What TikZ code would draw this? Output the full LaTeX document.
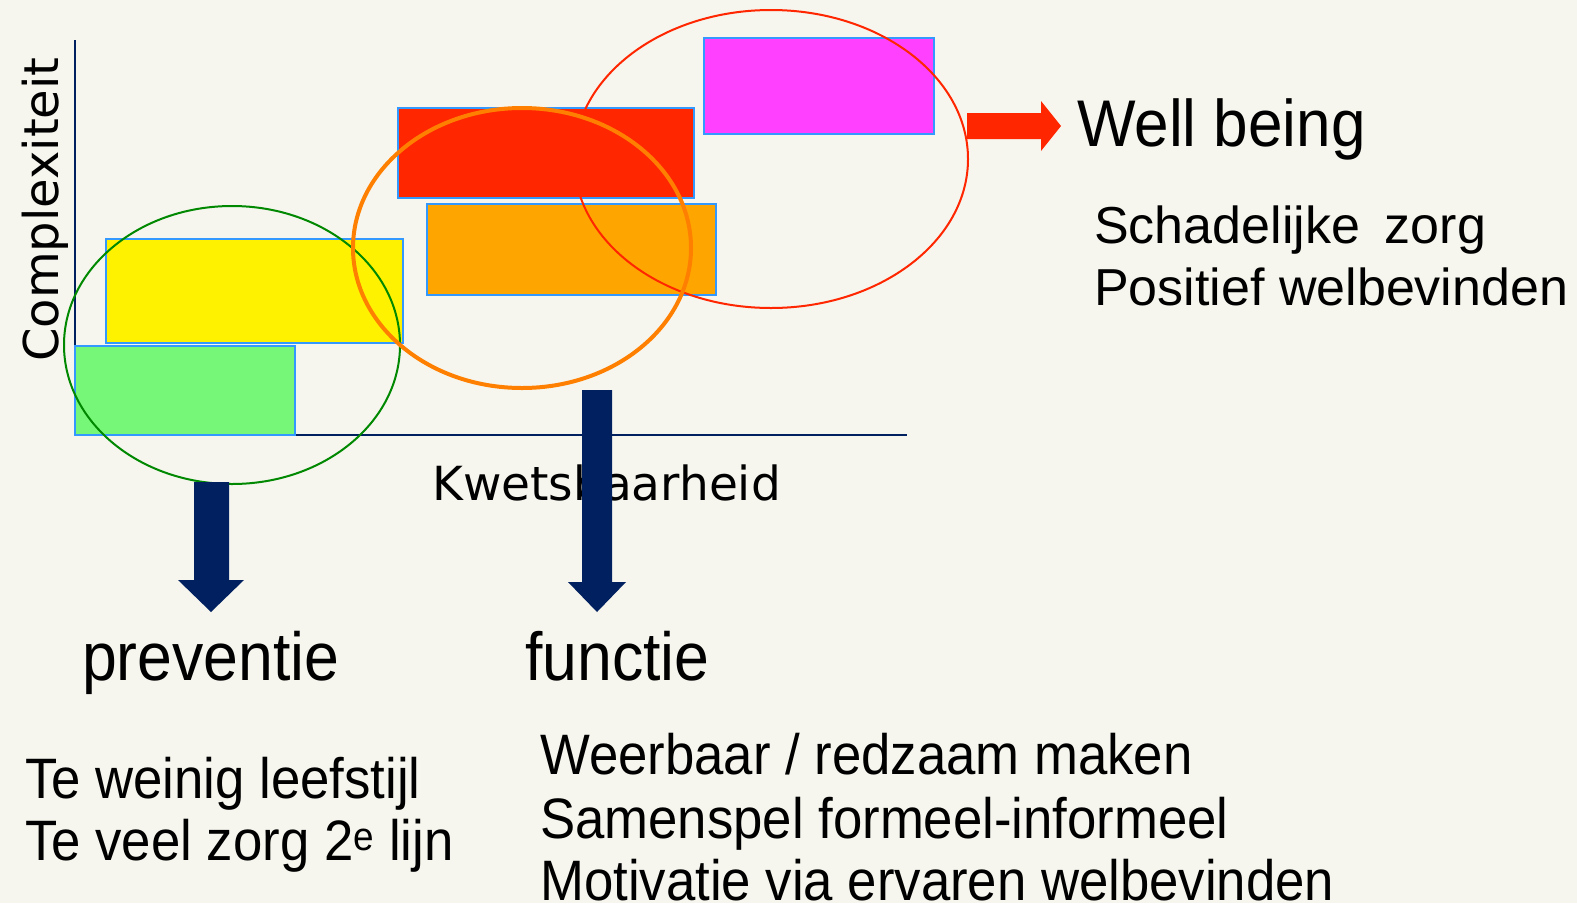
\documentclass[tikz,border=0pt]{standalone}
\usepackage{fontspec}
\setmainfont{Liberation Sans}
\newfontfamily\axisfont{DejaVu Sans}
\usetikzlibrary{positioning}
\definecolor{bgpaper}{RGB}{246,246,238}
\definecolor{boxblue}{RGB}{51,153,255}
\definecolor{axisnavy}{RGB}{0,32,96}
\definecolor{boxgreen}{RGB}{119,247,119}
\definecolor{boxred}{RGB}{255,38,0}
\definecolor{boxorange}{RGB}{255,165,0}
\definecolor{boxpink}{RGB}{255,64,255}
\definecolor{ringgreen}{RGB}{0,136,0}
\definecolor{ringorange}{RGB}{255,128,0}

\tikzset{
  box/.style={draw=boxblue, line width=2pt},
  txt/.style={inner sep=0pt, anchor=base west},
  bigtxt/.style={txt, font=\fontsize{68}{80}\selectfont, xscale=0.92},
  listtxt/.style={txt, font=\fontsize{57}{66}\selectfont, xscale=0.925},
}

\begin{document}
\begin{tikzpicture}[x=1pt, y=-1pt]

\fill[bgpaper] (0,0) rectangle (1577,903);
\useasboundingbox (0,0) rectangle (1577,903);

% Axes
\draw[axisnavy, line width=2pt] (75,40) -- (75,435) -- (907,435);

% Bars
\filldraw[box, fill=boxgreen] (75,346) rectangle (295,435);
\filldraw[box, fill=yellow] (106,239) rectangle (403,343);
\filldraw[box, fill=boxred] (398,108) rectangle (694,198);
\filldraw[box, fill=boxorange] (427,204) rectangle (716,295);
\filldraw[box, fill=boxpink] (704,38) rectangle (934,134);

% Groups
\draw[ringgreen, line width=2pt] (232,345) ellipse (168 and 139);
\draw[boxred, line width=2pt] (771,159) ellipse (197 and 149);
\draw[ringorange, line width=4pt] (522,248) ellipse (169 and 140);

% Axis labels
\node[txt, rotate=90, font=\axisfont\fontsize{48}{58}\selectfont] (ylab) at (58,362) {Complexiteit};
\node[txt, font=\axisfont\fontsize{47}{56}\selectfont] (xlab) at (432,500) {Kwetsbaarheid};

% Well being
\fill[boxred] (967,113) -- (1041,113) -- (1041,101) -- (1061,126) -- (1041,151) -- (1041,139) -- (967,139) -- cycle;
\node[txt, font=\fontsize{66}{76}\selectfont, xscale=0.94] (well) at (1077,146) {Well being};
\node[txt, font=\fontsize{52}{62}\selectfont] (schad) at (1094,243) {Schadelijke\hspace{0.2em} zorg};
\node[txt, font=\fontsize{52}{62}\selectfont] (posit) at (1094,305) {Positief welbevinden};

% Down arrows
\fill[axisnavy] (194,482) -- (229,482) -- (229,580) -- (244,580) -- (211,612) -- (178,580) -- (194,580) -- cycle;
\fill[axisnavy] (582,390) -- (612,390) -- (612,582) -- (626,582) -- (597,612) -- (568,582) -- (582,582) -- cycle;

\node[bigtxt] (prev) at (82,680) {preventie};
\node[bigtxt] (func) at (525,680) {functie};

\node[listtxt] (prevA) at (25,798) {Te weinig leefstijl};
\node[listtxt] (prevB) at (25,860) {Te veel zorg 2\textsuperscript{e} lijn};

\node[listtxt] (funcA) at (540,774) {Weerbaar / redzaam maken};
\node[listtxt] (funcB) at (540,838) {Samenspel formeel-informeel};
\node[listtxt] (funcC) at (540,900) {Motivatie via ervaren welbevinden};

\end{tikzpicture}
\end{document}
